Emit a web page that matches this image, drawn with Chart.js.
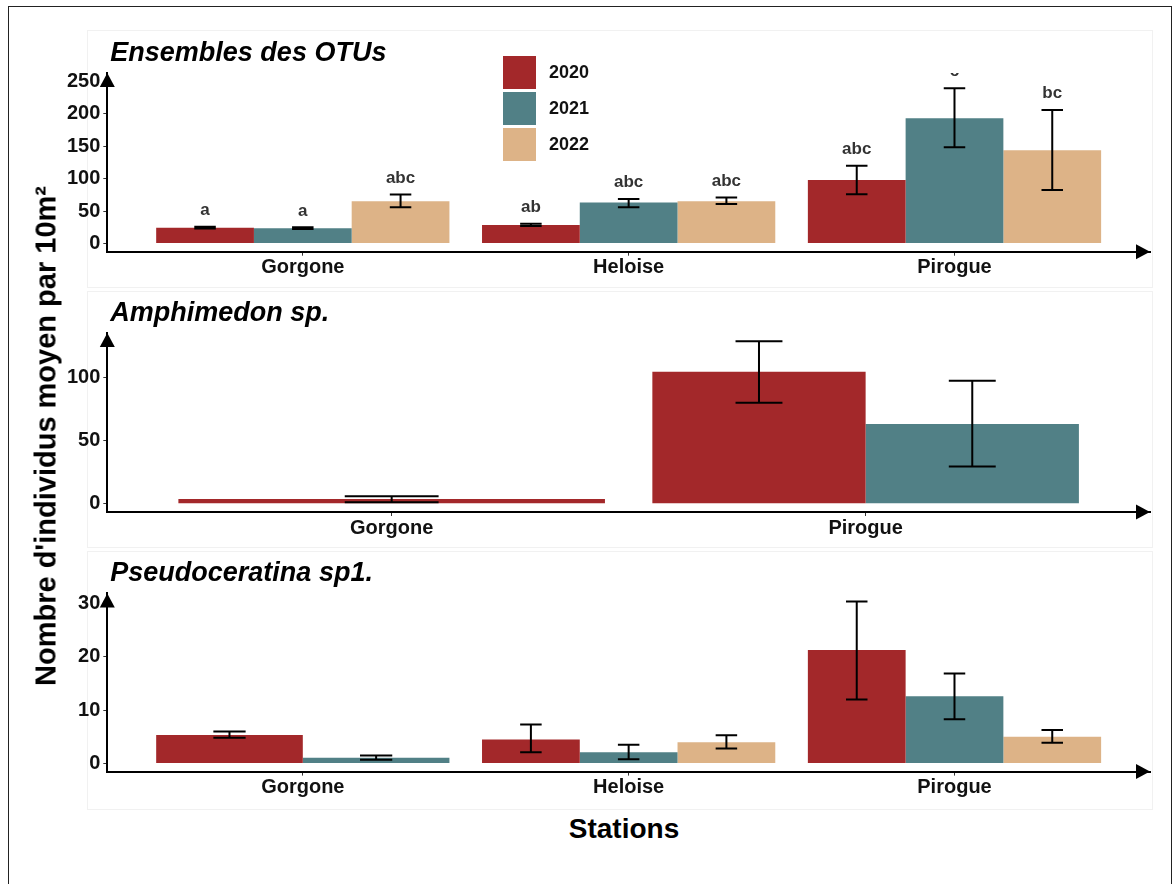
<!DOCTYPE html>
<html>
<head>
<meta charset="utf-8">
<title>Nombre d'individus moyen par 10m²</title>
<script src="https://cdn.jsdelivr.net/npm/chart.js@4.4.0/dist/chart.umd.min.js"></script>
<style>
  html, body { margin: 0; padding: 0; background: #fff; }
  body { width: 1174px; height: 884px; position: relative; overflow: hidden;
         font-family: 'Liberation Sans', Arial, sans-serif; }
  .frame { position: absolute; left: 8px; top: 6px; width: 1164px; height: 920px;
           border: 1.5px solid #222; box-sizing: border-box; }
  .panel { position: absolute; left: 87px; width: 1066px; border: 1px solid #f1f1f1;
           box-sizing: border-box; background: #fff; }
  canvas { position: absolute; left: 0; }
  .ytitle { position: absolute; left: 46px; top: 436px; font-size: 29px; font-weight: bold;
            line-height: 1; white-space: nowrap; color: #000;
            transform: translate(-50%, -50%) rotate(-90deg); }
  .xtitle { position: absolute; left: 524px; width: 200px; top: 815px; text-align: center;
            font-size: 28px; font-weight: bold; line-height: 1; color: #000; }
</style>
</head>
<body>
<div class="frame"></div>
<div class="panel" style="top:30px;height:258px"></div>
<div class="panel" style="top:291px;height:257px"></div>
<div class="panel" style="top:551px;height:259px"></div>
<canvas id="otu"></canvas>
<canvas id="amp"></canvas>
<canvas id="pseudo"></canvas>
<div class="ytitle">Nombre d'individus moyen par 10m²</div>
<div class="xtitle">Stations</div>
<script>
const FONT = "'Liberation Sans', Arial, sans-serif";

const years = ['2020', '2021', '2022'];
const yearColors = ['#A3282A', '#518086', '#DDB387'];

// Ensembles des OTUs
const otuStations = ['Gorgone', 'Heloise', 'Pirogue'];
const otuTicks = [0, 50, 100, 150, 200, 250];
const otuMean2020 = [24.5, 28.5, 97.8];
const otuMean2021 = [23.5, 63.0, 192.6];
const otuMean2022 = [65.0, 65.0, 143.4];
const otuLow2020 = [23.0, 27.0, 75.8];
const otuLow2021 = [22.5, 56.0, 148.1];
const otuLow2022 = [55.8, 61.0, 82.4];
const otuHigh2020 = [26.0, 30.5, 119.8];
const otuHigh2021 = [25.0, 68.6, 238.8];
const otuHigh2022 = [75.5, 71.0, 205.4];
const otuLetters2020 = ['a', 'ab', 'abc'];
const otuLetters2021 = ['a', 'abc', 'c'];
const otuLetters2022 = ['abc', 'abc', 'bc'];

// Amphimedon sp.
const ampStations = ['Gorgone', 'Pirogue'];
const ampTicks = [0, 50, 100];
const ampMean2020 = [3.8, 104.8];
const ampMean2021 = [null, 63.3];
const ampLow2020 = [1.2, 80.2];
const ampLow2021 = [null, 29.6];
const ampHigh2020 = [6.0, 129.1];
const ampHigh2021 = [null, 97.7];

// Pseudoceratina sp1.
const psStations = ['Gorgone', 'Heloise', 'Pirogue'];
const psTicks = [0, 10, 20, 30];
const psMean2020 = [5.35, 4.5, 21.3];
const psMean2021 = [1.1, 2.1, 12.6];
const psMean2022 = [null, 4.0, 5.0];
const psLow2020 = [4.85, 2.1, 12.0];
const psLow2021 = [0.7, 0.8, 8.3];
const psLow2022 = [null, 2.8, 3.9];
const psHigh2020 = [6.0, 7.3, 30.4];
const psHigh2021 = [1.5, 3.5, 16.9];
const psHigh2022 = [null, 5.3, 6.3];

// 5 % expansion on both ends of a value range
function expand(lo, hi) {
  const d = (hi - lo) * 0.05;
  return [lo - d, hi + d];
}
function maxOf(...arrs) {
  return Math.max(...arrs.flat().filter(v => v != null));
}

// error bars: whisker from low to high, caps 22 % of the bar width
const errorBars = {
  id: 'errorBars',
  afterDatasetsDraw(chart) {
    const ctx = chart.ctx, y = chart.scales.y;
    ctx.save();
    ctx.strokeStyle = '#000';
    ctx.lineWidth = 2;
    chart.data.datasets.forEach((ds, i) => {
      const meta = chart.getDatasetMeta(i);
      meta.data.forEach((bar, j) => {
        if (ds.data[j] == null) return;
        const lo = y.getPixelForValue(ds.low[j]);
        const hi = y.getPixelForValue(ds.high[j]);
        const half = bar.width * 0.22 / 2;
        ctx.beginPath();
        ctx.moveTo(bar.x, lo); ctx.lineTo(bar.x, hi);
        ctx.moveTo(bar.x - half, lo); ctx.lineTo(bar.x + half, lo);
        ctx.moveTo(bar.x - half, hi); ctx.lineTo(bar.x + half, hi);
        ctx.stroke();
      });
    });
    ctx.restore();
  }
};

// significance letters above each error bar, clipped to the plot area
const letterLabels = {
  id: 'letterLabels',
  afterDatasetsDraw(chart) {
    const ctx = chart.ctx, y = chart.scales.y, a = chart.chartArea;
    ctx.save();
    ctx.beginPath();
    ctx.rect(a.left, a.top, a.right - a.left, a.bottom - a.top);
    ctx.clip();
    ctx.fillStyle = '#333';
    ctx.font = 'bold 17px ' + FONT;
    ctx.textAlign = 'center';
    ctx.textBaseline = 'middle';
    chart.data.datasets.forEach((ds, i) => {
      if (!ds.letters) return;
      const meta = chart.getDatasetMeta(i);
      meta.data.forEach((bar, j) => {
        if (ds.data[j] == null) return;
        ctx.fillText(ds.letters[j], bar.x, y.getPixelForValue(ds.high[j]) - 16.5);
      });
    });
    ctx.restore();
  }
};

// arrow heads at the ends of both axes
const axisArrows = {
  id: 'axisArrows',
  afterDraw(chart) {
    const ctx = chart.ctx, a = chart.chartArea;
    ctx.save();
    ctx.fillStyle = '#000';
    ctx.beginPath();
    ctx.moveTo(a.left, a.top);
    ctx.lineTo(a.left - 7.5, a.top + 14);
    ctx.lineTo(a.left + 7.5, a.top + 14);
    ctx.closePath();
    ctx.fill();
    ctx.beginPath();
    ctx.moveTo(a.right, a.bottom);
    ctx.lineTo(a.right - 14, a.bottom - 7.5);
    ctx.lineTo(a.right - 14, a.bottom + 7.5);
    ctx.closePath();
    ctx.fill();
    ctx.restore();
  }
};

// panel heading in bold italic, above the top-left of the plot area
const panelTitle = {
  id: 'panelTitle',
  afterDraw(chart, args, opts) {
    const ctx = chart.ctx;
    ctx.save();
    ctx.fillStyle = '#000';
    ctx.font = 'italic bold 27px ' + FONT;
    ctx.textAlign = 'left';
    ctx.textBaseline = 'alphabetic';
    ctx.fillText(opts.text, chart.chartArea.left + 3, chart.chartArea.top - 12);
    ctx.restore();
  }
};

// vertical key of years (x, y given in page coordinates)
const yearKey = {
  id: 'yearKey',
  afterDraw(chart, args, opts) {
    if (!opts.show) return;
    const ctx = chart.ctx;
    const offsetTop = chart.canvas.offsetTop;
    ctx.save();
    ctx.font = 'bold 18px ' + FONT;
    ctx.textAlign = 'left';
    ctx.textBaseline = 'middle';
    chart.data.datasets.forEach((ds, i) => {
      const top = opts.y - offsetTop + i * 36;
      ctx.fillStyle = ds.backgroundColor;
      ctx.fillRect(opts.x, top, 33, 33);
      ctx.fillStyle = '#111';
      ctx.fillText(ds.label, opts.x + 46, top + 17.5);
    });
    ctx.restore();
  }
};

function makePanel(id, cfg) {
  const canvas = document.getElementById(id);
  const W = 1174;
  const H = cfg.canvasBottom - cfg.canvasTop;
  canvas.width = W;
  canvas.height = H;
  canvas.style.top = cfg.canvasTop + 'px';
  canvas.style.width = W + 'px';
  canvas.style.height = H + 'px';

  const plotLeft = 107.3, plotRight = 1150, yWidth = 60;
  const xHeight = cfg.canvasBottom - cfg.plotBottom;
  const n = cfg.stations.length;

  const tickFont = { family: FONT, size: 20, weight: 'bold' };
  const gridOpts = { display: true, drawOnChartArea: false, offset: false,
                     tickLength: 4, color: '#333', lineWidth: 1 };
  const borderOpts = { display: true, color: '#000', width: 2 };

  return new Chart(canvas, {
    type: 'bar',
    data: {
      labels: cfg.stations,
      datasets: cfg.series.map(s => ({
        label: s.year,
        data: s.mean,
        low: s.low,
        high: s.high,
        letters: s.letters,
        backgroundColor: s.color,
        borderWidth: 0,
        categoryPercentage: 0.9,
        barPercentage: 1.0,
        skipNull: true
      }))
    },
    options: {
      responsive: false,
      animation: false,
      devicePixelRatio: 1,
      layout: {
        autoPadding: false,
        padding: { left: plotLeft - yWidth, right: W - plotRight,
                   top: cfg.plotTop - cfg.canvasTop, bottom: 0 }
      },
      plugins: {
        legend: { display: false },
        tooltip: { enabled: false },
        panelTitle: { text: cfg.title },
        yearKey: cfg.key || { show: false }
      },
      scales: {
        x: {
          grid: gridOpts,
          border: borderOpts,
          ticks: { font: tickFont, color: '#111', padding: 0, maxRotation: 0, autoSkip: false },
          afterFit(s) {
            s.height = xHeight;
            // discrete axis padded by 0.6 of a category on each side
            s._startValue = -0.6;
            s._valueRange = n - 1 + 1.2;
          }
        },
        y: {
          min: cfg.range[0],
          max: cfg.range[1],
          grid: gridOpts,
          border: borderOpts,
          ticks: { font: tickFont, color: '#111', padding: 3 },
          afterBuildTicks(s) { s.ticks = cfg.ticks.map(v => ({ value: v })); },
          afterFit(s) { s.width = yWidth; }
        }
      }
    },
    plugins: [errorBars, letterLabels, axisArrows, panelTitle, yearKey]
  });
}

makePanel('otu', {
  title: 'Ensembles des OTUs',
  canvasTop: 28, canvasBottom: 290, plotTop: 72.9, plotBottom: 251.7,
  stations: otuStations,
  ticks: otuTicks,
  range: expand(0, otuTicks[otuTicks.length - 1]),
  key: { show: true, x: 503, y: 56 },
  series: [
    { year: years[0], color: yearColors[0], mean: otuMean2020, low: otuLow2020, high: otuHigh2020, letters: otuLetters2020 },
    { year: years[1], color: yearColors[1], mean: otuMean2021, low: otuLow2021, high: otuHigh2021, letters: otuLetters2021 },
    { year: years[2], color: yearColors[2], mean: otuMean2022, low: otuLow2022, high: otuHigh2022, letters: otuLetters2022 }
  ]
});

makePanel('amp', {
  title: 'Amphimedon sp.',
  canvasTop: 290, canvasBottom: 550, plotTop: 333, plotBottom: 512,
  stations: ampStations,
  ticks: ampTicks,
  range: expand(0, maxOf(ampHigh2020, ampHigh2021)),
  series: [
    { year: years[0], color: yearColors[0], mean: ampMean2020, low: ampLow2020, high: ampHigh2020 },
    { year: years[1], color: yearColors[1], mean: ampMean2021, low: ampLow2021, high: ampHigh2021 }
  ]
});

makePanel('pseudo', {
  title: 'Pseudoceratina sp1.',
  canvasTop: 550, canvasBottom: 812, plotTop: 593.4, plotBottom: 771.6,
  stations: psStations,
  ticks: psTicks,
  range: expand(0, maxOf(psHigh2020, psHigh2021, psHigh2022)),
  series: [
    { year: years[0], color: yearColors[0], mean: psMean2020, low: psLow2020, high: psHigh2020 },
    { year: years[1], color: yearColors[1], mean: psMean2021, low: psLow2021, high: psHigh2021 },
    { year: years[2], color: yearColors[2], mean: psMean2022, low: psLow2022, high: psHigh2022 }
  ]
});
</script>
</body>
</html>
